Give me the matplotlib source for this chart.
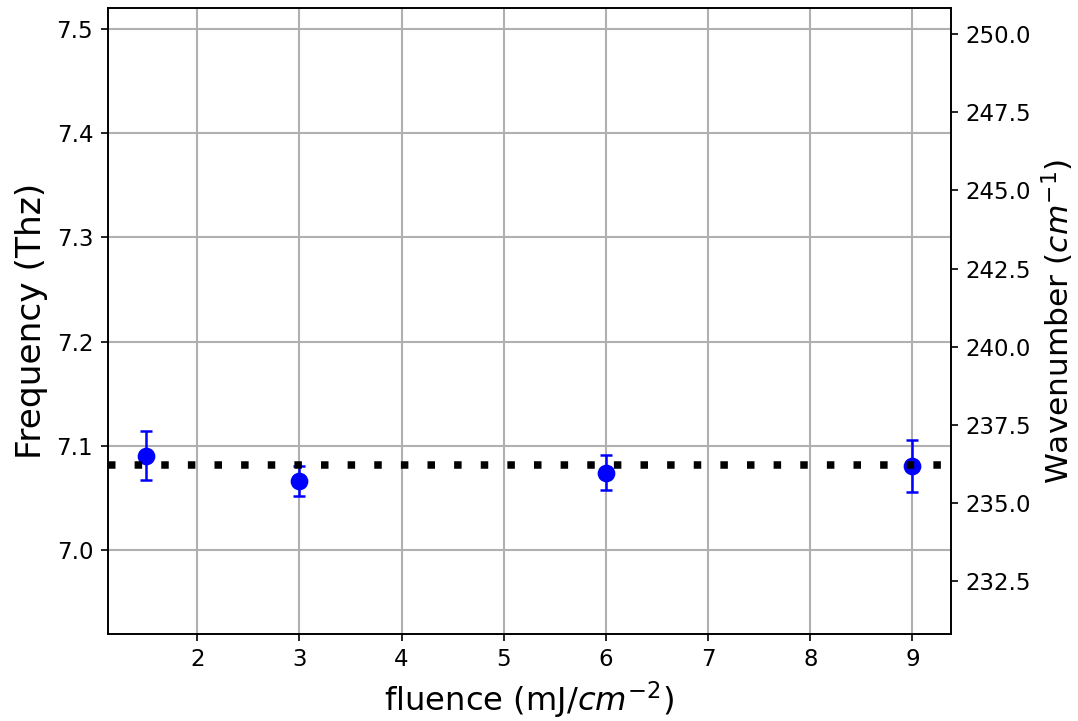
import numpy as np
import matplotlib
matplotlib.use("Agg")
from matplotlib import pyplot as plt

# fluence (mJ/cm^-2) and fitted phonon frequency (THz)
fluence = [1.5, 3.0, 6.0, 9.0]
freq = [7.0905, 7.0667, 7.0746, 7.0810]
freq_err = [0.0235, 0.0145, 0.0170, 0.0248]
freq_ref = 7.0815

THZ_TO_CM = 33.356

fig, ax = plt.subplots(figsize=(1078 / 150, 721 / 150), dpi=150)
ax.errorbar(fluence, freq, yerr=freq_err, fmt='o', color='blue',
            ms=7.5, capsize=3, elinewidth=1.2, capthick=1.2, zorder=3)
ax.axhline(freq_ref, color='black', lw=3.6, dashes=(1, 2.55), zorder=4)

ax.set_ylim(6.92, 7.52)
ax.set_yticks([7.0, 7.1, 7.2, 7.3, 7.4, 7.5])
ax.set_xticks(range(2, 10))
ax.grid(True, color='#b0b0b0', lw=1.0)
ax.tick_params(labelsize=11)
ax.set_xlabel(r'fluence (mJ/$cm^{-2}$)', fontsize=15.5)
ax.set_ylabel('Frequency (Thz)', fontsize=16.5)

ax2 = ax.twinx()
lo, hi = ax.get_ylim()
ax2.set_ylim(lo * THZ_TO_CM, hi * THZ_TO_CM)
ax2.set_yticks(np.arange(232.5, 250.1, 2.5))
ax2.tick_params(labelsize=11)
ax2.set_ylabel(r'Wavenumber ($cm^{-1}$)', fontsize=15)

fig.subplots_adjust(left=0.1, right=0.882, top=0.989, bottom=0.121)
fig.savefig('out.png', dpi=150)
